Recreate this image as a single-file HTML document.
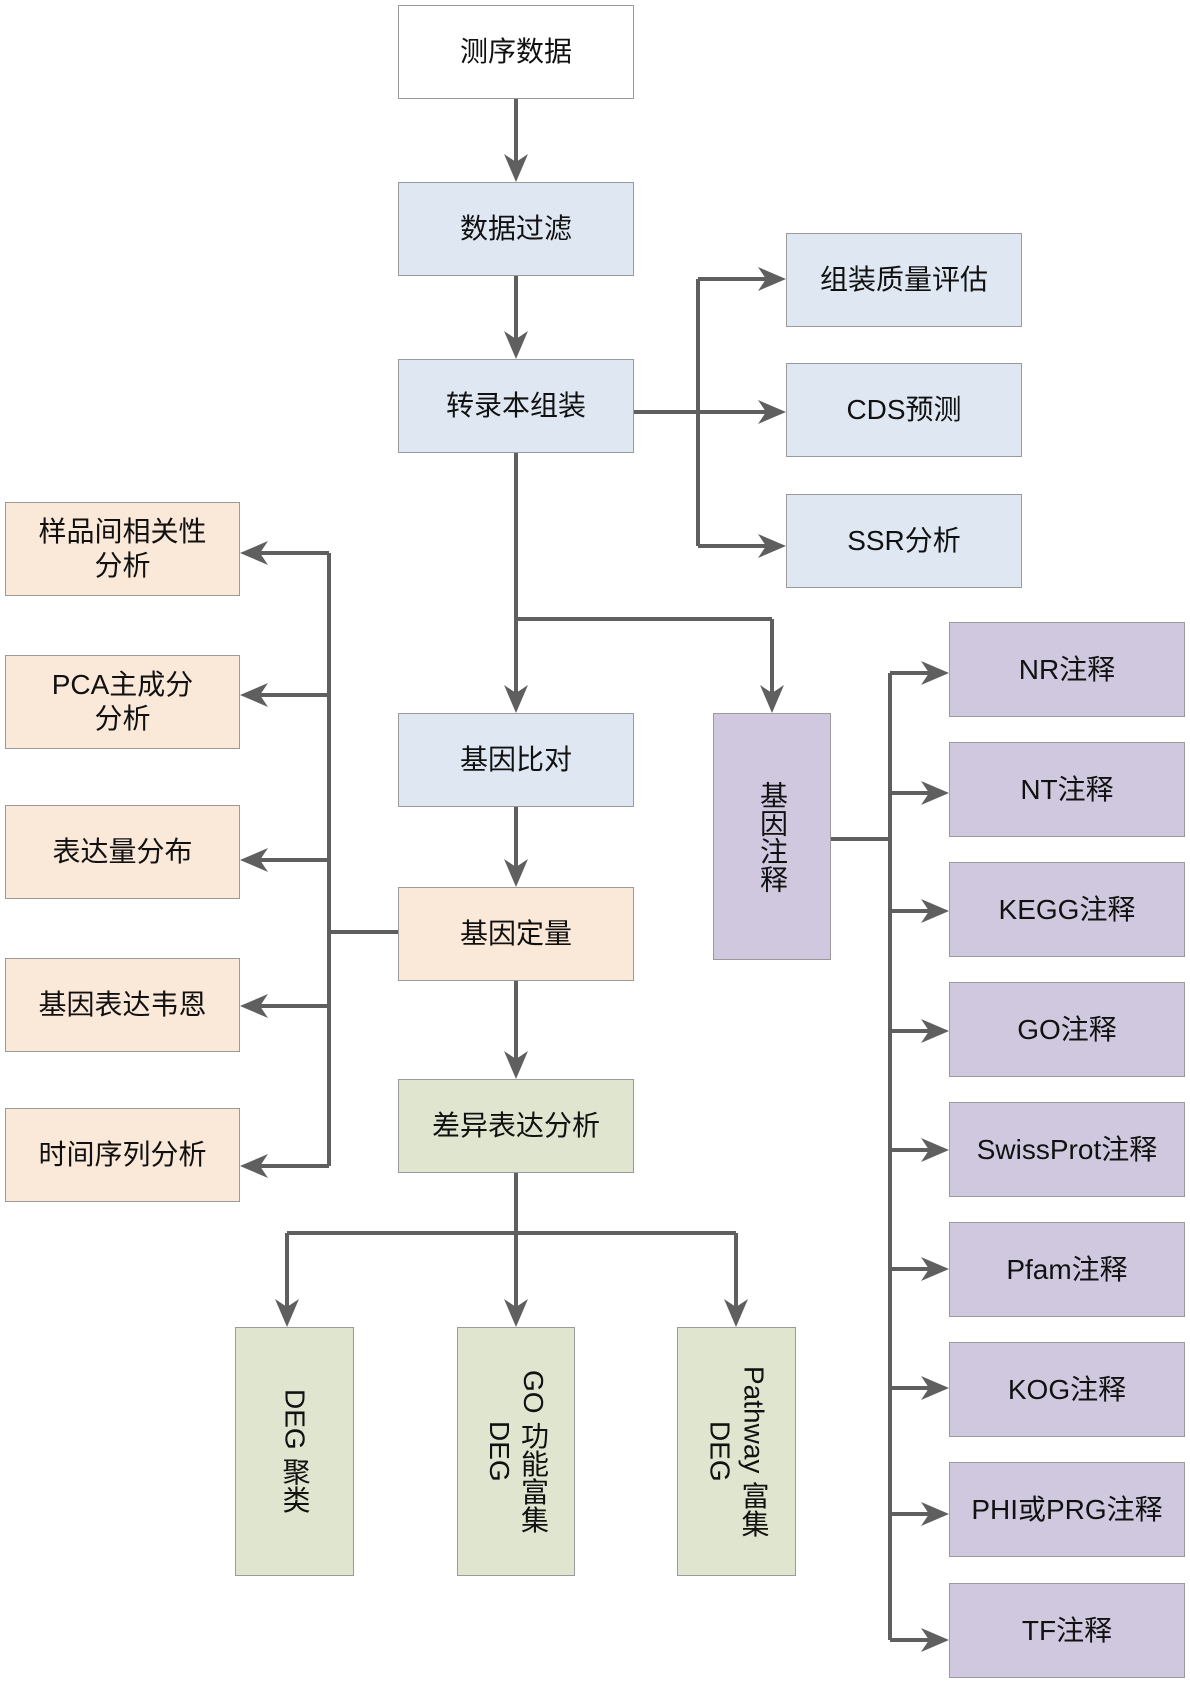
<!DOCTYPE html>
<html><head><meta charset="utf-8"><style>
body{margin:0;background:#fff;}
#c{position:relative;width:1190px;height:1681px;overflow:hidden;font-family:"Liberation Sans","Noto Sans CJK SC",sans-serif;}
.b{position:absolute;box-sizing:border-box;border:1.5px solid #9a9a9a;display:flex;align-items:center;justify-content:center;text-align:center;font-size:28px;line-height:34px;color:#111;}
.w{background:#fff}.bl{background:#dfe8f2}.o{background:#fae8d8}.g{background:#e0e5cf}.p{background:#d0c8de}
.v{writing-mode:vertical-rl;}
svg{position:absolute;left:0;top:0;}
</style></head><body><div id="c">
<svg width="1190" height="1681" viewBox="0 0 1190 1681">
<g stroke="#5f5f5f" stroke-width="4" fill="none">
<line x1="516" y1="99" x2="516" y2="170"/>
<line x1="516" y1="275" x2="516" y2="347"/>
<line x1="516" y1="452" x2="516" y2="701"/>
<line x1="516" y1="619" x2="772" y2="619"/>
<line x1="772" y1="619" x2="772" y2="701"/>
<line x1="516" y1="806" x2="516" y2="875"/>
<line x1="516" y1="980" x2="516" y2="1067"/>
<line x1="634" y1="412" x2="774" y2="412"/>
<line x1="698" y1="279" x2="698" y2="546"/>
<line x1="698" y1="279" x2="774" y2="279"/>
<line x1="698" y1="546" x2="774" y2="546"/>
<line x1="398" y1="932" x2="329" y2="932"/>
<line x1="329" y1="553" x2="329" y2="1166"/>
<g><line x1="329" y1="553" x2="252" y2="553"/><line x1="329" y1="695" x2="252" y2="695"/><line x1="329" y1="860" x2="252" y2="860"/><line x1="329" y1="1006" x2="252" y2="1006"/><line x1="329" y1="1166" x2="252" y2="1166"/></g>
<line x1="831" y1="839" x2="890" y2="839"/>
<line x1="890" y1="673" x2="890" y2="1640"/>
<line x1="890" y1="673" x2="937" y2="673"/><line x1="890" y1="793" x2="937" y2="793"/><line x1="890" y1="911" x2="937" y2="911"/><line x1="890" y1="1031" x2="937" y2="1031"/><line x1="890" y1="1150" x2="937" y2="1150"/><line x1="890" y1="1269" x2="937" y2="1269"/><line x1="890" y1="1388" x2="937" y2="1388"/><line x1="890" y1="1514" x2="937" y2="1514"/><line x1="890" y1="1640" x2="937" y2="1640"/>
<line x1="516" y1="1173" x2="516" y2="1315"/>
<line x1="287" y1="1233" x2="736" y2="1233"/>
<line x1="287" y1="1233" x2="287" y2="1315"/>
<line x1="736" y1="1233" x2="736" y2="1315"/>
</g>
<g fill="#5f5f5f">
<!-- down arrows: tip at (x,y) -->
<polygon points="516,182 504,154 516,162 528,154"/>
<polygon points="516,359 504,331 516,339 528,331"/>
<polygon points="516,713 504,685 516,693 528,685"/>
<polygon points="772,713 760,685 772,693 784,685"/>
<polygon points="516,887 504,859 516,867 528,859"/>
<polygon points="516,1079 504,1051 516,1059 528,1051"/>
<polygon points="287,1327 275,1299 287,1307 299,1299"/>
<polygon points="516,1327 504,1299 516,1307 528,1299"/>
<polygon points="736,1327 724,1299 736,1307 748,1299"/>
<!-- right arrows -->
<polygon points="786,279 758,267 766,279 758,291"/>
<polygon points="786,412 758,400 766,412 758,424"/>
<polygon points="786,546 758,534 766,546 758,558"/>
<polygon points="949,673 921,661 929,673 921,685"/>
<polygon points="949,793 921,781 929,793 921,805"/>
<polygon points="949,911 921,899 929,911 921,923"/>
<polygon points="949,1031 921,1019 929,1031 921,1043"/>
<polygon points="949,1150 921,1138 929,1150 921,1162"/>
<polygon points="949,1269 921,1257 929,1269 921,1281"/>
<polygon points="949,1388 921,1376 929,1388 921,1400"/>
<polygon points="949,1514 921,1502 929,1514 921,1526"/>
<polygon points="949,1640 921,1628 929,1640 921,1652"/>
<!-- left arrows -->
<polygon points="240,553 268,541 260,553 268,565"/>
<polygon points="240,695 268,683 260,695 268,707"/>
<polygon points="240,860 268,848 260,860 268,872"/>
<polygon points="240,1006 268,994 260,1006 268,1018"/>
<polygon points="240,1166 268,1154 260,1166 268,1178"/>
</g>
</svg>
<div class="b w" style="left:398px;top:5px;width:236px;height:94px">测序数据</div>
<div class="b bl" style="left:398px;top:182px;width:236px;height:94px">数据过滤</div>
<div class="b bl" style="left:398px;top:359px;width:236px;height:94px">转录本组装</div>
<div class="b bl" style="left:398px;top:713px;width:236px;height:94px">基因比对</div>
<div class="b o" style="left:398px;top:887px;width:236px;height:94px">基因定量</div>
<div class="b g" style="left:398px;top:1079px;width:236px;height:94px">差异表达分析</div>
<div class="b bl" style="left:786px;top:233px;width:236px;height:94px">组装质量评估</div>
<div class="b bl" style="left:786px;top:363px;width:236px;height:94px">CDS预测</div>
<div class="b bl" style="left:786px;top:494px;width:236px;height:94px">SSR分析</div>
<div class="b o" style="left:5px;top:502px;width:235px;height:94px">样品间相关性<br>分析</div>
<div class="b o" style="left:5px;top:655px;width:235px;height:94px">PCA主成分<br>分析</div>
<div class="b o" style="left:5px;top:805px;width:235px;height:94px">表达量分布</div>
<div class="b o" style="left:5px;top:958px;width:235px;height:94px">基因表达韦恩</div>
<div class="b o" style="left:5px;top:1108px;width:235px;height:94px">时间序列分析</div>
<div class="b p" style="left:713px;top:713px;width:118px;height:247px"><span class="v">基因注释</span></div>
<div class="b p" style="left:949px;top:622px;width:236px;height:95px">NR注释</div>
<div class="b p" style="left:949px;top:742px;width:236px;height:95px">NT注释</div>
<div class="b p" style="left:949px;top:862px;width:236px;height:95px">KEGG注释</div>
<div class="b p" style="left:949px;top:982px;width:236px;height:95px">GO注释</div>
<div class="b p" style="left:949px;top:1102px;width:236px;height:95px">SwissProt注释</div>
<div class="b p" style="left:949px;top:1222px;width:236px;height:95px">Pfam注释</div>
<div class="b p" style="left:949px;top:1342px;width:236px;height:95px">KOG注释</div>
<div class="b p" style="left:949px;top:1462px;width:236px;height:95px">PHI或PRG注释</div>
<div class="b p" style="left:949px;top:1583px;width:236px;height:95px">TF注释</div>
<div class="b g" style="left:235px;top:1327px;width:119px;height:249px"><span class="v">DEG 聚类</span></div>
<div class="b g" style="left:457px;top:1327px;width:118px;height:249px"><span class="v">GO 功能富集<br>DEG</span></div>
<div class="b g" style="left:677px;top:1327px;width:119px;height:249px"><span class="v">Pathway 富集<br>DEG</span></div>
</div></body></html>
